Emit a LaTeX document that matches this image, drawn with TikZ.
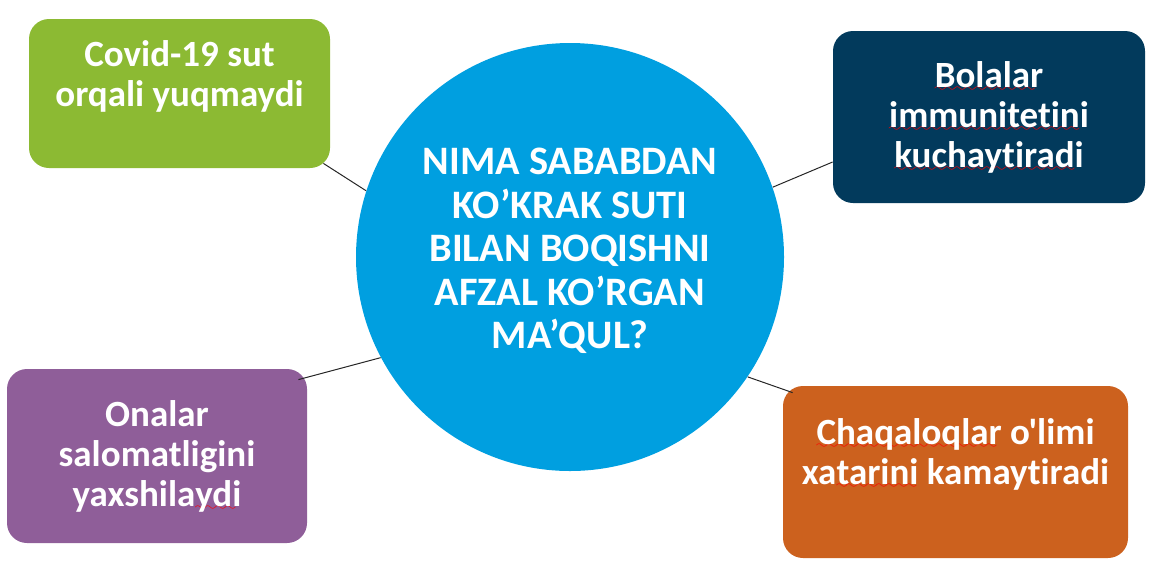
\documentclass[tikz,border=0pt]{standalone}
\usepackage{fontspec}
\setmainfont{Carlito}[Ligatures={TeXOff,NoCommon}]
\usepackage{xcolor}

\definecolor{hubblue}{HTML}{009FE0}
\definecolor{leafgreen}{HTML}{8CBA33}
\definecolor{deepnavy}{HTML}{023A5C}
\definecolor{plum}{HTML}{8F5E99}
\definecolor{rust}{HTML}{CC611E}

% red spell-check squiggle under a word
\font\wavefont=lasy6
\newcommand{\redwave}[1]{\setbox0\hbox{#1}\rlap{\textcolor{red}{\lower2pt\hbox to\wd0{\leaders\hbox{\wavefont\char58}\hfill}}}\box0\relax}

\begin{document}
\begin{tikzpicture}[x=0.5pt, y=-0.5pt,
  box/.style={rounded corners=10pt, text=white, align=center, inner sep=0pt,
    font=\fontsize{18.5}{20}\selectfont\bfseries},
  link/.style={black!85, line width=0.5pt}]
\useasboundingbox (0,0) rectangle (1154,580);

% Center question
\node[circle, fill=hubblue, minimum size=214pt, inner sep=0pt] (hub) at (570,257) {};
\node[text=white, align=center, font=\fontsize{20.2}{21.75}\selectfont\bfseries] (question) at (570,251)
  {NIMA SABABDAN\\KO’KRAK SUTI\\BILAN BOQISHNI\\AFZAL KO’RGAN\\MA’QUL?};

% Reasons
\node[box, fill=leafgreen, minimum width=150.5pt, minimum height=74.5pt] (covid) at (179.5,93.5)
  {Covid-19 sut\\orqali yuqmaydi\\\mbox{}};
\node[box, fill=deepnavy, minimum width=156pt, minimum height=86pt] (immun) at (989,117)
  {\redwave{Bolalar}\\\redwave{immunitetini}\\\redwave{kuchaytiradi}};
\node[box, fill=plum, minimum width=150pt, minimum height=87pt] (onalar) at (157,456)
  {Onalar\\salomatligini\\yaxshila\redwave{ydi}};
\node[box, fill=rust, minimum width=172.5pt, minimum height=86pt] (chaqa) at (955.5,472)
  {\redwave{Chaqaloqlar} o'limi\\xa\redwave{tarini} kamaytiradi\\\mbox{}};

% Links
\draw[link] (hub.162.5) -- ([xshift=-3.5pt,yshift=2.5pt]covid.south east);
\draw[link] (hub.19) -- ([yshift=-22.5pt]immun.west);
\draw[link] (hub.208) -- ([xshift=-4.5pt,yshift=-5.5pt]onalar.north east);
\draw[link] (hub.-34) -- ([xshift=5pt,yshift=-3.5pt]chaqa.north west);
\end{tikzpicture}
\end{document}
